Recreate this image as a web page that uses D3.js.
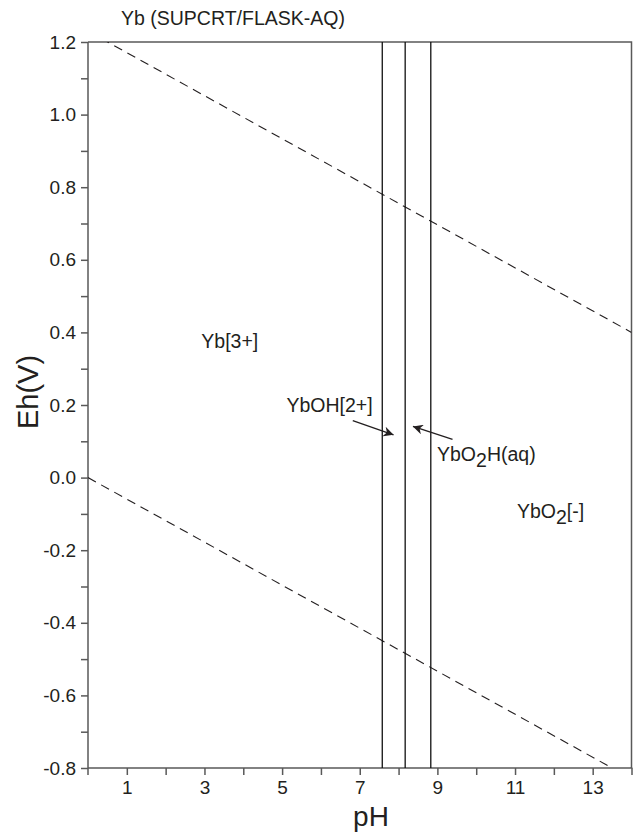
<!DOCTYPE html>
<html>
<head>
<meta charset="utf-8">
<script src="https://cdn.jsdelivr.net/npm/d3@7"></script>
<style>
  body { margin: 0; background: #fff; }
  text { font-family: "Liberation Sans", Arial, sans-serif; fill: #231f20; }
</style>
</head>
<body>
<svg id="chart"></svg>
<script>
(function () {
  // pH ticks and Eh ticks
  var phTicks = [1, 2, 3, 4, 5, 6, 7, 8, 9, 10, 11, 12, 13, 14];
  var phLabels = [1, 3, 5, 7, 9, 11, 13];
  var ehTicks = [-0.8, -0.7, -0.6, -0.5, -0.4, -0.3, -0.2, -0.1, 0.0, 0.1, 0.2, 0.3, 0.4, 0.5, 0.6, 0.7, 0.8, 0.9, 1.0, 1.1, 1.2];
  var ehLabels = [-0.8, -0.6, -0.4, -0.2, 0.0, 0.2, 0.4, 0.6, 0.8, 1.0, 1.2];

  // water stability limits (dashed), end points
  var upperWater = [[0, 1.23], [14, 0.40]];
  var lowerWater = [[0, 0.0], [13.5, -0.80]];

  // vertical boundaries between species (pH)
  var boundaries = [7.58, 8.17, 8.83];

  // species labels; "|" marks the subscript part
  var labels = [
    {name: "Yb[3+]", ph: 2.92, eh: 0.358},
    {name: "YbOH[2+]", ph: 5.11, eh: 0.182},
    {name: "YbO|2|H(aq)", ph: 8.99, eh: 0.045},
    {name: "YbO|2|[-]", ph: 11.05, eh: -0.111}
  ];

  // arrows: [tail pH, tail Eh, tip pH, tip Eh]
  var arrows = [
    [6.82, 0.157, 7.87, 0.118],
    [9.39, 0.105, 8.37, 0.141]
  ];

  var width = 637, height = 833;
  var margin = {top: 42, right: 5.5, bottom: 65, left: 88};
  var font = "Liberation Sans, Arial, sans-serif";

  var svg = d3.select("#chart")
      .attr("width", width)
      .attr("height", height);

  var x = d3.scaleLinear()
    .domain([0, 14])
    .range([margin.left, width - margin.right]);

  var y = d3.scaleLinear()
    .domain([-0.8, 1.2])
    .range([height - margin.bottom, margin.top]);

  var axisColor = "#595959";

  // x axis
  var xaxis = d3.axisBottom(x)
    .tickValues(phTicks)
    .tickSize(7)
    .tickPadding(6)
    .tickFormat(function(d) { return phLabels.indexOf(d) >= 0 ? d : ""; });
  var gx = svg.append("g")
    .attr("transform", "translate(0," + y(-0.8) + ")")
    .call(xaxis);
  gx.select(".domain").attr("stroke", axisColor).attr("stroke-width", 1.5)
    .attr("d", "M" + x(0) + ",0H" + x(14) + "V-1");
  gx.selectAll(".tick line").attr("stroke", axisColor).attr("stroke-width", 1.5);
  gx.selectAll(".tick text").attr("font-size", 19).attr("fill", "#231f20")
    .attr("font-family", font);

  // y axis (plain hyphen for negatives, like the original)
  var yaxis = d3.axisLeft(y)
    .tickValues(ehTicks)
    .tickSize(7)
    .tickPadding(5)
    .tickFormat(function(d) {
      var r = Math.round(d * 10) / 10;
      var show = ehLabels.some(function(v) { return Math.abs(v - r) < 1e-9; });
      return show ? r.toFixed(1) : "";
    });
  var gy = svg.append("g")
    .attr("transform", "translate(" + x(0) + ",0)")
    .call(yaxis);
  gy.select(".domain").attr("stroke", axisColor).attr("stroke-width", 1.5)
    .attr("d", "M0," + (y(-0.8) + 7) + "V" + y(1.2));
  gy.selectAll(".tick line").attr("stroke", axisColor).attr("stroke-width", 1.5);
  gy.selectAll(".tick text").attr("font-size", 19).attr("fill", "#231f20")
    .attr("font-family", font);

  // top and right frame
  svg.append("path")
    .attr("d", "M" + x(0) + "," + y(1.2) + "H" + x(14) + "V" + y(-0.8))
    .attr("fill", "none")
    .attr("stroke", axisColor)
    .attr("stroke-width", 1.5);

  // clip for plot area
  svg.append("clipPath").attr("id", "plot")
    .append("rect")
    .attr("x", x(0)).attr("y", y(1.2))
    .attr("width", x(14) - x(0)).attr("height", y(-0.8) - y(1.2));

  var vis = svg.append("g").attr("clip-path", "url(#plot)");

  var line = d3.line()
    .x(function(d) { return x(d[0]); })
    .y(function(d) { return y(d[1]); });

  vis.selectAll("path.water")
    .data([upperWater, lowerWater])
    .enter().append("path")
      .attr("class", "water")
      .attr("d", line)
      .attr("fill", "none")
      .attr("stroke", "#231f20")
      .attr("stroke-width", 1.1)
      .attr("stroke-dasharray", "9,6");

  vis.selectAll("line.bound")
    .data(boundaries)
    .enter().append("line")
      .attr("class", "bound")
      .attr("x1", function(d) { return x(d); })
      .attr("x2", function(d) { return x(d); })
      .attr("y1", y(1.2))
      .attr("y2", y(-0.8))
      .attr("stroke", "#111")
      .attr("stroke-width", 1.3);

  // arrow heads
  svg.append("defs").append("marker")
    .attr("id", "head")
    .attr("viewBox", "0 0 10 10")
    .attr("refX", 10).attr("refY", 5)
    .attr("markerWidth", 10).attr("markerHeight", 10)
    .attr("markerUnits", "userSpaceOnUse")
    .attr("orient", "auto")
    .append("path")
      .attr("d", "M0,0L10,5L0,10L3,5Z")
      .attr("fill", "#231f20");

  svg.selectAll("line.arrow")
    .data(arrows)
    .enter().append("line")
      .attr("class", "arrow")
      .attr("x1", function(d) { return x(d[0]); })
      .attr("y1", function(d) { return y(d[1]); })
      .attr("x2", function(d) { return x(d[2]); })
      .attr("y2", function(d) { return y(d[3]); })
      .attr("stroke", "#231f20")
      .attr("stroke-width", 1.3)
      .attr("marker-end", "url(#head)");

  // species labels, with subscripts
  labels.forEach(function(l) {
    var t = svg.append("text")
      .attr("x", x(l.ph))
      .attr("y", y(l.eh))
      .attr("font-size", 19.5);
    var parts = l.name.split("|");
    parts.forEach(function(p, i) {
      var s = t.append("tspan").text(p);
      if (i === 1) s.attr("dy", 6);
      if (i === 2) s.attr("dy", -6);
    });
  });

  // title
  svg.append("text")
    .attr("x", 121)
    .attr("y", 25)
    .attr("font-size", 19.5)
    .text("Yb (SUPCRT/FLASK-AQ)");

  // axis titles
  svg.append("text")
    .attr("x", 371)
    .attr("y", 826)
    .attr("text-anchor", "middle")
    .attr("font-size", 28)
    .text("pH");

  svg.append("text")
    .attr("transform", "translate(38," + 392 + ") rotate(-90)")
    .attr("text-anchor", "middle")
    .attr("font-size", 29)
    .text("Eh(V)");
})();
</script>
</body>
</html>
